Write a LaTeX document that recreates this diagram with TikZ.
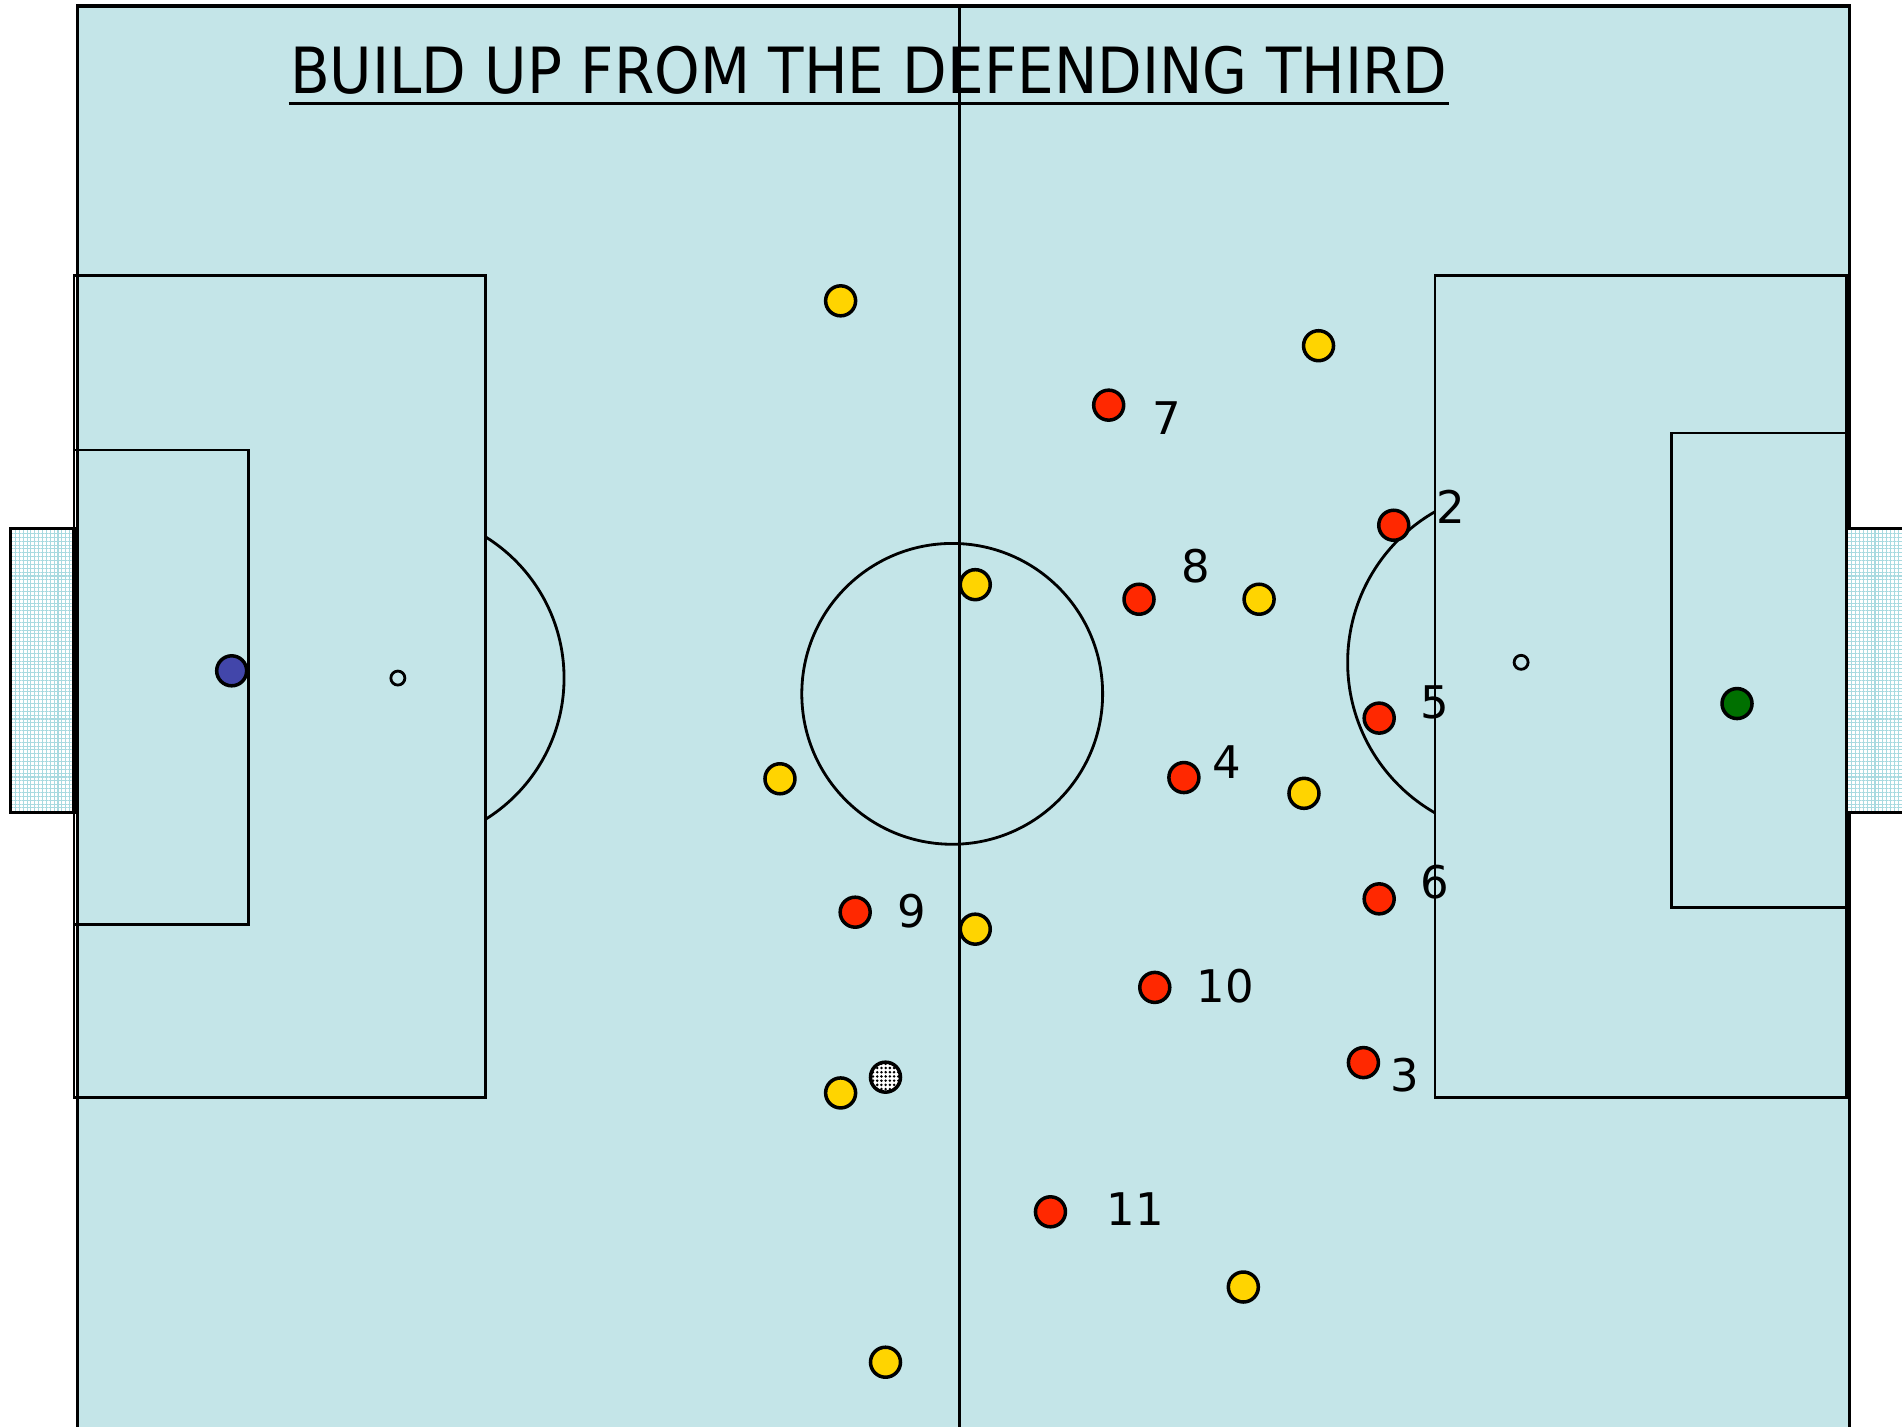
\documentclass[tikz,border=0pt]{standalone}
\usepackage{graphicx}
\usepackage{fontspec}
\setmainfont{DejaVu Sans}
\usetikzlibrary{patterns.meta}
\definecolor{pitchc}{RGB}{196,229,232}
\definecolor{netc}{RGB}{168,218,224}
\definecolor{yelc}{RGB}{255,212,0}
\definecolor{redc}{RGB}{255,40,0}
\definecolor{bluec}{RGB}{66,70,170}
\definecolor{greenc}{RGB}{0,112,0}

\begin{document}
\begin{tikzpicture}[x=.01213cm,y=-.01213cm,line width=.8pt,
  player/.style={circle,draw,line width=1pt,minimum size=.30cm,inner sep=0pt},
  spot/.style={circle,draw,line width=.8pt,minimum size=.14cm,inner sep=0pt},
  num/.style={font=\fontsize{12.8}{15}\selectfont,inner sep=0pt}]
\useasboundingbox (0,0) rectangle (1568,1176);
\fill[pitchc] (64,5) rectangle (1525,1190);
\draw[line width=.9pt] (64,1190)--(64,5)--(1525,5)--(1525,1190);
\foreach \a/\b in {9/61,1522/1580}{
  \fill[white] (\a,436) rectangle (\b,670);
  \fill[pattern={Hatch[angle=0,distance=1.1pt,line width=.3pt]},pattern color=netc] (\a,436) rectangle (\b,670);
  \draw[line width=.9pt] (\a,436) rectangle (\b,670);
}
\draw (791,5)--(791,1190);
\draw (785,572) circle[radius=124];
\draw (61,227) rectangle (400,905) (61,371) rectangle (205,762);
\draw (1183,227) rectangle (1522,905) (1378,357) rectangle (1522,748);
\begin{scope}
  \clip (400,0) rectangle (700,1176);
  \draw (328,559) circle[radius=137];
\end{scope}
\begin{scope}
  \clip (900,0) rectangle (1183,1176);
  \draw (1254,546) circle[radius=143];
\end{scope}
\node[spot] (spotl) at (328,559) {};
\node[spot] (spotr) at (1254,546) {};

\node[anchor=base west,inner sep=0pt] (title) at (238,77) {\resizebox{11.57cm}{.473cm}{BUILD UP FROM THE DEFENDING THIRD}};
\draw[line width=.9pt] ([yshift=-.075cm]title.south west)--([yshift=-.075cm]title.south east);

\node[player,fill=bluec] (gkl) at (191,553) {};
\node[player,fill=greenc] (gkr) at (1432,580) {};
\foreach \x/\y [count=\i] in {693/248,1087/285,804/482,1038/494,643/642,1075/654,804/766,693/901,1025/1061,730/1123}
  \node[player,fill=yelc] (y\i) at (\x,\y) {};
\foreach \x/\y/\n/\lx/\ly in {914/334/7/962/345,1149/433/2/1196/418,939/494/8/986/467,1137/592/5/1183/579,976/641/4/1011/628,1137/741/6/1183/727,705/752/9/752/751,952/814/10/1010/813,1124/876/3/1158/886,866/999/11/936/997}{
  \node[player,fill=redc] (r\n) at (\x,\y) {};
  \node[num] (l\n) at (\lx,\ly) {\n};
}
\node[player,fill=white,postaction={pattern={Dots[distance=1.2pt,radius=.4pt]},pattern color=black}] (ball) at (730,888) {};
\end{tikzpicture}
\end{document}
